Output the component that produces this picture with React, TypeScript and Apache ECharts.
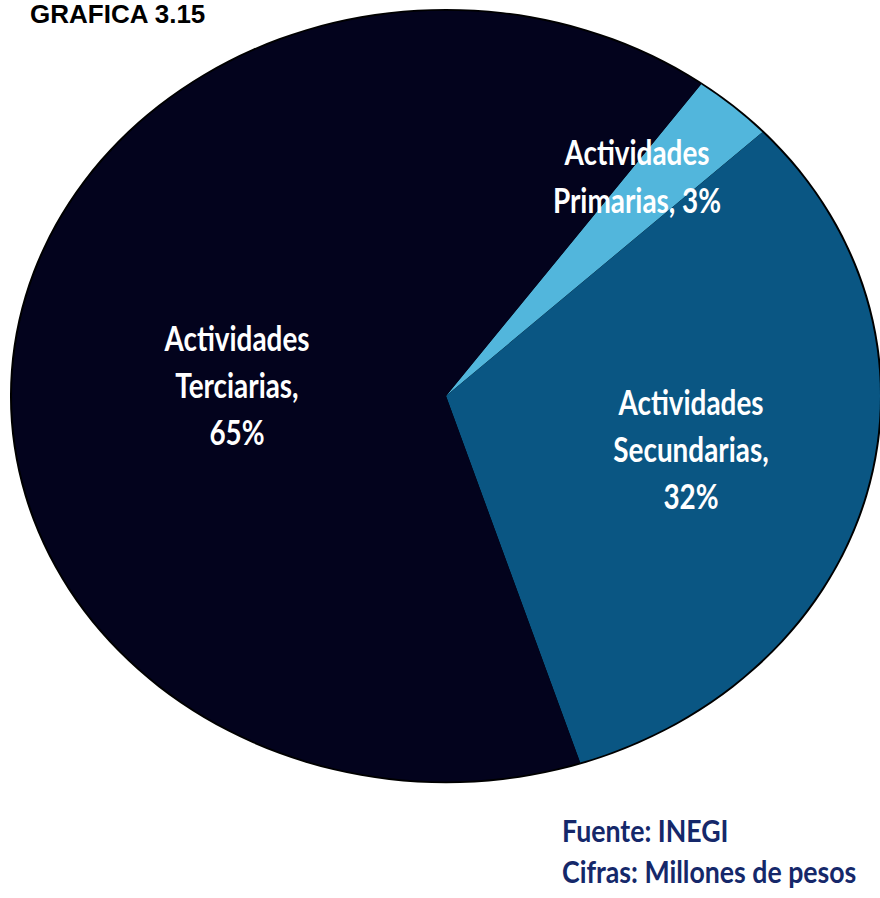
import React, { useEffect, useRef } from "react";
import * as echarts from "echarts";

const categories = ["Actividades Primarias", "Actividades Secundarias", "Actividades Terciarias"];
const values = [3, 32, 65];
const sliceColors = ["#52b6dc", "#0a5683", "#03031d"];
const titleText = "GRAFICA 3.15";
const sourceLines = ["Fuente: INEGI", "Cifras: Millones de pesos"];

// label line arrangement per slice
const labelLines = [
  ["Actividades", "Primarias, " + values[0] + "%"],
  ["Actividades", "Secundarias,", values[1] + "%"],
  ["Actividades", "Terciarias,", values[2] + "%"],
];
const labelPos = [
  [637, 176],
  [691, 449],
  [237, 385],
];

const SCALE_Y = 0.888;

export default function App() {
  const pieRef = useRef<HTMLDivElement>(null);
  const textRef = useRef<HTMLDivElement>(null);

  useEffect(() => {
    const pie = echarts.init(pieRef.current!, undefined, { renderer: "svg" });
    const total = values.reduce((a, b) => a + b, 0);
    pie.setOption({
      animation: false,
      series: [
        {
          type: "pie",
          silent: true,
          center: [446, 446],
          radius: [0, 436],
          z: 1,
          label: { show: false },
          labelLine: { show: false },
          itemStyle: { color: "#000000" },
          data: [{ value: total, name: "rim" }],
        },
        {
          type: "pie",
          center: [446, 446],
          radius: [0, 434],
          startAngle: 54,
          clockwise: true,
          z: 2,
          label: { show: false },
          labelLine: { show: false },
          itemStyle: { borderWidth: 0 },
          data: categories.map((n, i) => ({
            name: n,
            value: values[i],
            itemStyle: { color: sliceColors[i] },
          })),
        },
      ],
    });

    const txt = echarts.init(textRef.current!, undefined, { renderer: "svg" });
    const labelFont = "Lato, 'Open Sans', sans-serif";
    const elements: any[] = [
      {
        type: "text",
        x: 30,
        y: 1,
        style: {
          text: titleText,
          fontFamily: "'Liberation Sans', Arial, sans-serif",
          fontWeight: "bold",
          fontSize: 26,
          lineHeight: 26,
          fill: "#000000",
          textAlign: "left",
          textVerticalAlign: "top",
        },
      },
    ];
    labelLines.forEach((lines, i) => {
      elements.push({
        type: "text",
        x: labelPos[i][0],
        y: labelPos[i][1],
        scaleX: 0.82,
        style: {
          text: lines.join("\n"),
          fontFamily: labelFont,
          fontWeight: "bold",
          fontSize: 34,
          lineHeight: i === 0 ? 48 : 47,
          fill: "#ffffff",
          textAlign: "center",
          textVerticalAlign: "middle",
        },
      });
    });
    sourceLines.forEach((s, i) => {
      elements.push({
        type: "text",
        x: 562,
        y: 830 + i * 41,
        scaleX: 0.89,
        style: {
          text: s,
          fontFamily: labelFont,
          fontWeight: "bold",
          fontSize: 30,
          fill: "#15286a",
          textAlign: "left",
          textVerticalAlign: "middle",
        },
      });
    });
    txt.setOption({ animation: false, graphic: { elements } });

    return () => {
      pie.dispose();
      txt.dispose();
    };
  }, []);

  return (
    <div
      style={{
        position: "absolute",
        left: 0,
        top: 0,
        width: 880,
        height: 898,
        background: "#ffffff",
        overflow: "hidden",
      }}
    >
      <div
        ref={pieRef}
        style={{
          position: "absolute",
          left: 0,
          top: 0,
          width: 880,
          height: 900,
          transform: `scaleY(${SCALE_Y})`,
          transformOrigin: "0 0",
        }}
      />
      <div
        ref={textRef}
        style={{ position: "absolute", left: 0, top: 0, width: 880, height: 898 }}
      />
    </div>
  );
}
